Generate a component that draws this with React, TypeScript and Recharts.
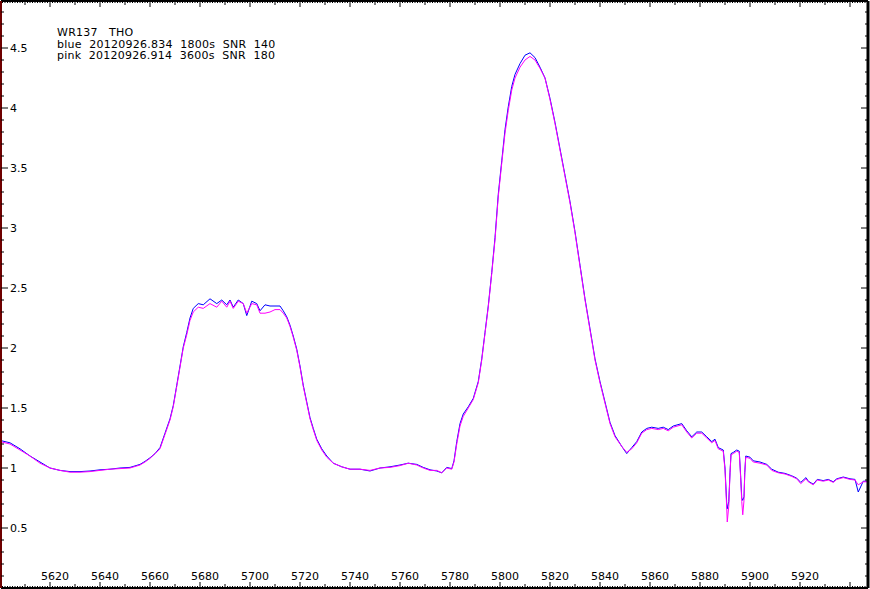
import { LineChart, Line, XAxis, YAxis } from 'recharts';

// wavelength grid (Angstrom) shared by both spectra
const wavelengths = [
  5600, 5604, 5608, 5612, 5616, 5620, 5624, 5628, 5632, 5636,
  5640, 5644, 5648, 5652, 5656, 5658, 5660, 5662, 5664, 5666,
  5668, 5669.3, 5670.7, 5672, 5673.3, 5674.7, 5676, 5677.3, 5679.3, 5681.3,
  5684, 5686.7, 5688.7, 5690.7, 5692, 5693.3, 5695.3, 5697.3, 5698.7, 5700.7,
  5702.7, 5704, 5706, 5708, 5710, 5712, 5713.3, 5714.7, 5716, 5717.3,
  5718.7, 5720, 5721.3, 5722.7, 5724, 5725.3, 5726.7, 5728.7, 5730.7, 5733.3,
  5736.7, 5740, 5744, 5748, 5752, 5756, 5760, 5763.3, 5766.7, 5769.3,
  5772, 5774.7, 5776.7, 5778.7, 5780.7, 5781.6, 5782.7, 5784, 5785.3, 5787.3,
  5789.3, 5791.3, 5792.7, 5794, 5795.3, 5796.7, 5798, 5799.3, 5800.7, 5802,
  5803.3, 5804.7, 5806, 5808, 5810, 5812, 5814, 5816, 5818, 5820,
  5822, 5824, 5826, 5828, 5830, 5832, 5834, 5836, 5838, 5840,
  5842, 5844, 5846, 5848.7, 5850.7, 5852.7, 5854.7, 5856.7, 5858.7, 5860.7,
  5863.3, 5865.3, 5867.3, 5869.3, 5872.7, 5874.7, 5876.7, 5878.7, 5880.7, 5882.7,
  5884.7, 5886, 5887.3, 5889.3, 5890, 5890.7, 5890.9, 5891.5, 5892, 5892.4,
  5893.3, 5894.7, 5895.7, 5896.3, 5896.7, 5897.1, 5897.6, 5897.9, 5898.3, 5900,
  5901.3, 5904, 5906.7, 5908.7, 5911.3, 5914, 5916.7, 5918.7, 5920.3, 5922.4,
  5923.3, 5925.3, 5926.9, 5929.3, 5931.3, 5933.3, 5934.7, 5937.3, 5940, 5942,
  5943.3, 5945.3, 5947,
];

// blue: 20120926.834, 1800s
const blueFlux = [
  1.23, 1.21, 1.16, 1.10, 1.05, 1.00, 0.98, 0.97, 0.97, 0.975,
  0.985, 0.99, 1.0, 1.005, 1.03, 1.055, 1.085, 1.12, 1.17, 1.29,
  1.41, 1.52, 1.69, 1.85, 2.01, 2.13, 2.25, 2.33, 2.37, 2.36,
  2.41, 2.37, 2.40, 2.36, 2.40, 2.34, 2.40, 2.37, 2.27, 2.39,
  2.37, 2.31, 2.36, 2.35, 2.35, 2.35, 2.31, 2.26, 2.19, 2.10,
  1.99, 1.85, 1.69, 1.55, 1.42, 1.33, 1.24, 1.16, 1.10, 1.04,
  1.01, 0.99, 0.99, 0.975, 1.00, 1.01, 1.025, 1.04, 1.03, 1.005,
  0.985, 0.975, 0.96, 1.005, 0.995, 1.06, 1.22, 1.37, 1.45, 1.51,
  1.58, 1.72, 1.91, 2.13, 2.35, 2.63, 2.92, 3.28, 3.56, 3.82,
  4.01, 4.18, 4.28, 4.37, 4.44, 4.46, 4.42, 4.34, 4.25, 4.08,
  3.88, 3.66, 3.44, 3.22, 2.97, 2.69, 2.41, 2.16, 1.91, 1.72,
  1.55, 1.38, 1.27, 1.18, 1.12, 1.17, 1.22, 1.30, 1.33, 1.34,
  1.33, 1.34, 1.32, 1.35, 1.37, 1.31, 1.26, 1.30, 1.30, 1.26,
  1.22, 1.24, 1.17, 1.15, 1.0, 0.70, 0.66, 0.72, 0.96, 1.12,
  1.13, 1.15, 1.14, 0.92, 0.75, 0.73, 0.76, 0.96, 1.10, 1.09,
  1.06, 1.05, 1.03, 0.99, 0.965, 0.955, 0.935, 0.915, 0.88, 0.92,
  0.89, 0.865, 0.905, 0.895, 0.905, 0.885, 0.91, 0.925, 0.91, 0.905,
  0.80, 0.89, 0.89,
];

// pink: 20120926.914, 3600s
const pinkFlux = [
  1.22, 1.20, 1.15, 1.10, 1.04, 1.00, 0.98, 0.965, 0.965, 0.97,
  0.98, 0.99, 0.995, 1.00, 1.025, 1.05, 1.08, 1.12, 1.16, 1.28,
  1.40, 1.51, 1.68, 1.84, 2.00, 2.11, 2.23, 2.30, 2.34, 2.33,
  2.37, 2.34, 2.39, 2.34, 2.39, 2.33, 2.39, 2.37, 2.29, 2.37,
  2.36, 2.29, 2.29, 2.30, 2.32, 2.32, 2.29, 2.25, 2.18, 2.09,
  1.98, 1.84, 1.68, 1.54, 1.41, 1.32, 1.23, 1.15, 1.09, 1.04,
  1.01, 0.99, 0.99, 0.98, 1.00, 1.005, 1.02, 1.04, 1.025, 1.00,
  0.98, 0.98, 0.96, 1.00, 0.99, 1.05, 1.20, 1.35, 1.43, 1.50,
  1.57, 1.71, 1.90, 2.12, 2.34, 2.62, 2.90, 3.26, 3.54, 3.79,
  3.98, 4.15, 4.25, 4.34, 4.40, 4.43, 4.40, 4.33, 4.25, 4.07,
  3.87, 3.65, 3.43, 3.21, 2.96, 2.68, 2.40, 2.15, 1.90, 1.71,
  1.54, 1.37, 1.26, 1.18, 1.13, 1.16, 1.21, 1.29, 1.32, 1.33,
  1.32, 1.33, 1.31, 1.34, 1.36, 1.30, 1.25, 1.29, 1.29, 1.25,
  1.21, 1.23, 1.16, 1.14, 0.98, 0.66, 0.55, 0.68, 0.955, 1.11,
  1.12, 1.14, 1.13, 0.90, 0.72, 0.61, 0.73, 0.955, 1.09, 1.08,
  1.05, 1.04, 1.025, 0.98, 0.96, 0.95, 0.93, 0.91, 0.87, 0.91,
  0.885, 0.86, 0.90, 0.89, 0.90, 0.88, 0.905, 0.92, 0.905, 0.90,
  0.86, 0.885, 0.885,
];

const xLabels = [5620, 5640, 5660, 5680, 5700, 5720, 5740, 5760, 5780, 5800, 5820, 5840, 5860, 5880, 5900, 5920];
const yLabels = [0.5, 1, 1.5, 2, 2.5, 3, 3.5, 4, 4.5];

const annotation = [
  'WR137   THO',
  'blue  20120926.834  1800s  SNR  140',
  'pink  20120926.914  3600s  SNR  180',
];

// 2.5 px per angstrom, 120 px per flux unit
const X_MIN = 5600.4;
const X_MAX = 5947.2;
const Y_MAX = 4.8917;
const FONT = '"DejaVu Sans", Verdana, sans-serif';

// every angstrom gets a small tick, every 0.1 on the flux axis
const xTicks: number[] = [];
for (let w = 5601; w <= 5947; w++) xTicks.push(w);
const yTicks: number[] = [];
for (let i = 1; i <= 48; i++) yTicks.push(i / 10);

const data = wavelengths.map((w, i) => ({ w, blue: blueFlux[i], pink: pinkFlux[i] }));

function xTickLen(v: number) {
  if (v % 20 === 0) return 6;
  if (v % 10 === 0) return 4;
  return 2;
}

function yTickLen(v: number) {
  const k = Math.round(v * 10);
  return k % 5 === 0 ? 7 : 3;
}

const BottomTick = (props: any) => {
  const { x, y, payload } = props;
  const v = payload.value;
  return (
    <g>
      <line x1={x} x2={x} y1={y} y2={y - xTickLen(v)} stroke="#000" strokeWidth={1} />
      {xLabels.includes(v) && (
        <text x={x + 5} y={y - 8.5} textAnchor="middle" fontFamily={FONT} fontSize={11} fill="#000">
          {v}
        </text>
      )}
    </g>
  );
};

const TopTick = (props: any) => {
  const { x, y, payload } = props;
  return <line x1={x} x2={x} y1={y} y2={y + xTickLen(payload.value)} stroke="#000" strokeWidth={1} />;
};

const LeftTick = (props: any) => {
  const { x, y, payload } = props;
  const v = payload.value;
  const label = yLabels.find((l) => Math.abs(l - v) < 1e-6);
  return (
    <g>
      <line x1={x} x2={x + yTickLen(v)} y1={y} y2={y} stroke="#000" strokeWidth={1} />
      {label !== undefined && (
        <text x={x + 9} y={y + 4} textAnchor="start" fontFamily={FONT} fontSize={11} fill="#000">
          {label}
        </text>
      )}
    </g>
  );
};

const RightTick = (props: any) => {
  const { x, y, payload } = props;
  return <line x1={x} x2={x - yTickLen(payload.value)} y1={y} y2={y} stroke="#000" strokeWidth={1} />;
};

export default function App() {
  return (
    <div style={{ position: 'absolute', left: 0, top: 0, width: 870, height: 589, background: '#fff' }}>
      <LineChart width={870} height={589} data={data} margin={{ top: 0, right: 1, bottom: 0, left: 0 }}>
        <XAxis
          dataKey="w"
          type="number"
          domain={[X_MIN, X_MAX]}
          ticks={xTicks}
          interval={0}
          height={1}
          tickSize={0}
          tickMargin={0}
          tickLine={false}
          tick={BottomTick}
          axisLine={{ stroke: '#000', strokeWidth: 2 }}
          allowDataOverflow
        />
        <XAxis
          xAxisId="top"
          orientation="top"
          dataKey="w"
          type="number"
          domain={[X_MIN, X_MAX]}
          ticks={xTicks}
          interval={0}
          height={1}
          tickSize={0}
          tickMargin={0}
          tickLine={false}
          tick={TopTick}
          axisLine={{ stroke: '#000', strokeWidth: 2 }}
          allowDataOverflow
        />
        <YAxis
          type="number"
          domain={[0, Y_MAX]}
          ticks={yTicks}
          interval={0}
          width={1}
          tickSize={0}
          tickMargin={0}
          tickLine={false}
          tick={LeftTick}
          axisLine={{ stroke: '#6e0000', strokeWidth: 2 }}
          allowDataOverflow
        />
        <YAxis
          yAxisId="right"
          orientation="right"
          type="number"
          domain={[0, Y_MAX]}
          ticks={yTicks}
          interval={0}
          width={1}
          tickSize={0}
          tickMargin={0}
          tickLine={false}
          tick={RightTick}
          axisLine={{ stroke: '#000', strokeWidth: 3 }}
          allowDataOverflow
        />
        <Line type="linear" dataKey="blue" stroke="#0000ff" strokeWidth={1} dot={false} isAnimationActive={false} />
        <Line type="linear" dataKey="pink" stroke="#ff00ff" strokeWidth={1} dot={false} isAnimationActive={false} />
      </LineChart>
      <svg width={870} height={589} style={{ position: 'absolute', left: 0, top: 0, pointerEvents: 'none' }}>
        {annotation.map((t, i) => (
          <text key={i} x={57} y={36 + i * 11.7} fontFamily={FONT} fontSize={11} letterSpacing={0.25} fill="#000">
            {t.replace(/ /g, '\u00a0')}
          </text>
        ))}
      </svg>
    </div>
  );
}
